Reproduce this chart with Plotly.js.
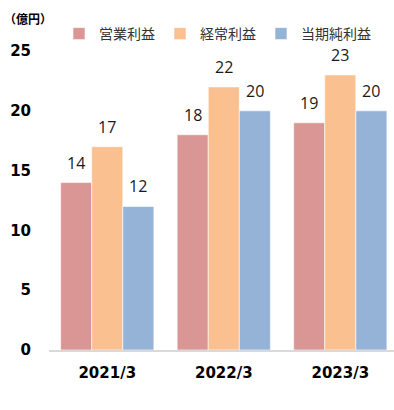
<!DOCTYPE html>
<html><head><meta charset="utf-8">
<script src="https://cdn.plot.ly/plotly-3.0.1.min.js"></script>
<style>html,body{margin:0;padding:0;background:#fff}#c{width:394px;height:410px}</style>
</head><body><div id="c"></div>
<script>
const categories = ['2021/3', '2022/3', '2023/3'];
const seriesNames = ['営業利益', '経常利益', '当期純利益'];
const operatingProfit = [14, 18, 19];
const ordinaryProfit = [17, 22, 23];
const netProfit = [12, 20, 20];
const yTicks = [0, 5, 10, 15, 20, 25];
const unitLabel = '（億円）';

const colors = ['#D99694', '#FAC090', '#95B3D7'];
const values = [operatingProfit, ordinaryProfit, netProfit];

const traces = values.map((v, i) => ({
  type: 'bar', x: categories, y: v, name: seriesNames[i],
  marker: {color: colors[i], line: {color: 'rgba(255,255,255,0.6)', width: 1}},
  hoverinfo: 'none'
}));

const annotations = [];
const nS = values.length, groupFrac = 0.8;
values.forEach((v, i) => {
  v.forEach((val, j) => {
    annotations.push({
      x: j - groupFrac / 2 + groupFrac / nS * (i + 0.5), y: val, xref: 'x', yref: 'y',
      text: String(val), showarrow: false, yanchor: 'middle', yshift: 20,
      font: {family: 'Open Sans, Noto Sans, sans-serif', size: 16, color: '#1a1a1a'}
    });
  });
});
annotations.push({
  xref: 'paper', yref: 'paper', x: 0, y: 1, xshift: -47, yshift: 33, xanchor: 'left', yanchor: 'middle',
  text: '<b>' + unitLabel + '</b>', showarrow: false,
  font: {family: 'Noto Sans CJK JP', size: 12, color: '#000'}
});

const layout = {
  width: 394, height: 410,
  margin: {l: 49, r: 0, t: 51, b: 60, autoexpand: false},
  paper_bgcolor: '#fff', plot_bgcolor: '#fff',
  barmode: 'group', bargap: 0.2, bargroupgap: 0,
  showlegend: true,
  legend: {
    orientation: 'h', xref: 'container', yref: 'container', x: 59 / 394, y: 1 - 34 / 410,
    xanchor: 'left', yanchor: 'middle', bgcolor: 'rgba(0,0,0,0)',
    font: {family: 'Noto Sans CJK JP', size: 14, color: '#333'},
    itemwidth: 30, traceorder: 'normal'
  },
  xaxis: {
    type: 'category', range: [-0.5, 2.461], showgrid: false, zeroline: false,
    showline: true, linecolor: '#D9D9D9', linewidth: 2, ticks: '', ticklabelstandoff: 8,
    tickfont: {family: 'DejaVu Sans', size: 15, color: '#000', weight: 'bold'}, fixedrange: true
  },
  yaxis: {
    range: [0, 25], tickvals: yTicks, showgrid: false, zeroline: false, showline: false,
    ticks: '', ticklabelstandoff: 17,
    tickfont: {family: 'DejaVu Sans', size: 15, color: '#000', weight: 'bold'}, fixedrange: true
  },
  annotations: annotations
};
Plotly.newPlot('c', traces, layout, {displayModeBar: false, staticPlot: true});
</script></body></html>
